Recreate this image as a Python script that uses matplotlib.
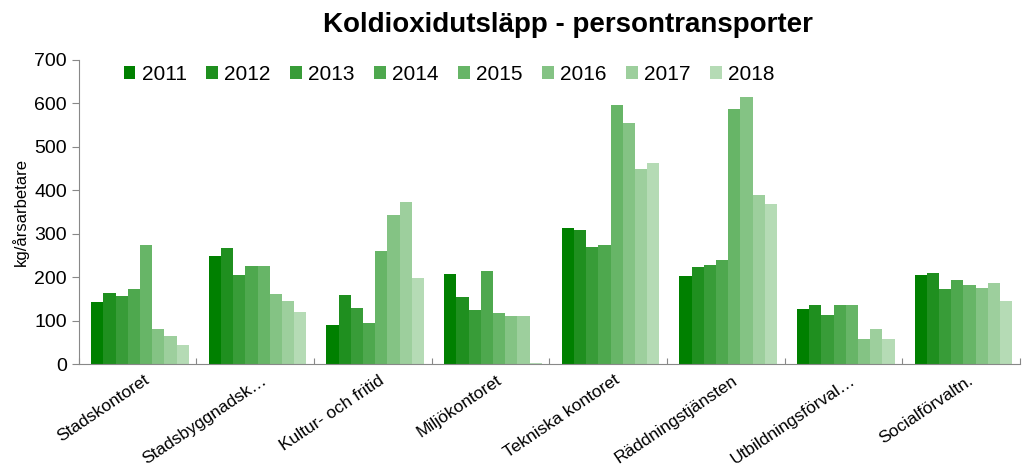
import numpy as np
import matplotlib
matplotlib.use("Agg")
import matplotlib.pyplot as plt

plt.rcParams['font.family'] = ['Liberation Sans', 'DejaVu Sans']

categories = ["Stadskontoret", "Stadsbyggnadsk…", "Kultur- och fritid", "Miljökontoret",
              "Tekniska kontoret", "Räddningstjänsten", "Utbildningsförval…", "Socialförvaltn."]
years = ["2011", "2012", "2013", "2014", "2015", "2016", "2017", "2018"]

v2011 = [143, 248, 91, 207, 313, 203, 126, 204]
v2012 = [164, 267, 160, 155, 309, 224, 137, 210]
v2013 = [157, 206, 130, 125, 270, 229, 114, 172]
v2014 = [172, 225, 95, 214, 273, 240, 137, 193]
v2015 = [274, 225, 260, 117, 597, 586, 137, 183]
v2016 = [80, 162, 343, 110, 554, 615, 57, 175]
v2017 = [64, 145, 374, 110, 449, 388, 81, 186]
v2018 = [44, 120, 198, 2, 462, 368, 57, 145]
series = [v2011, v2012, v2013, v2014, v2015, v2016, v2017, v2018]

colors = ["#008000", "#1f8f1f", "#389c38", "#4ea84e", "#67b567", "#84c384", "#9dcf9d", "#b5dbb5"]

fig = plt.figure(figsize=(10.24, 4.68), dpi=100)
ax = fig.add_axes([0.077, 0.222, 0.919, 0.650])

x = np.arange(len(categories))
w = 0.83 / len(series)
for i, vals in enumerate(series):
    ax.bar(x - 0.415 + w * (i + 0.5) + 0.02, vals, width=w, color=colors[i], label=years[i])

ax.set_xlim(-0.5, len(categories) - 0.5)
ax.set_ylim(0, 700)
ax.set_yticks(range(0, 701, 100))
ax.set_xticks(np.arange(-0.5, len(categories), 1), minor=False)
ax.set_xticklabels([])
ax.set_xticks(x + 0.05, minor=True)
ax.set_xticklabels(categories, minor=True, rotation=34, ha='right', rotation_mode='anchor', fontsize=12.5)
ax.tick_params(axis='x', which='minor', length=0, pad=6)
ax.tick_params(axis='x', which='major', length=4, direction='in', color='#888888')
ax.tick_params(axis='y', labelsize=14, length=5, color='#888888')
for s in ['top', 'right']:
    ax.spines[s].set_visible(False)
for s in ['left', 'bottom']:
    ax.spines[s].set_color('#888888')

ax.set_ylabel("kg/årsarbetare", fontsize=12, labelpad=4)
fig.suptitle("Koldioxidutsläpp - persontransporter", x=0.555, y=0.975, fontsize=20, fontweight='bold')

ax.legend(ncol=8, loc='upper left', bbox_to_anchor=(0.028, 1.045), frameon=False, fontsize=15,
          handlelength=0.55, handleheight=0.55, handletextpad=0.3, columnspacing=0.95)

fig.savefig("out.png", dpi=100)
